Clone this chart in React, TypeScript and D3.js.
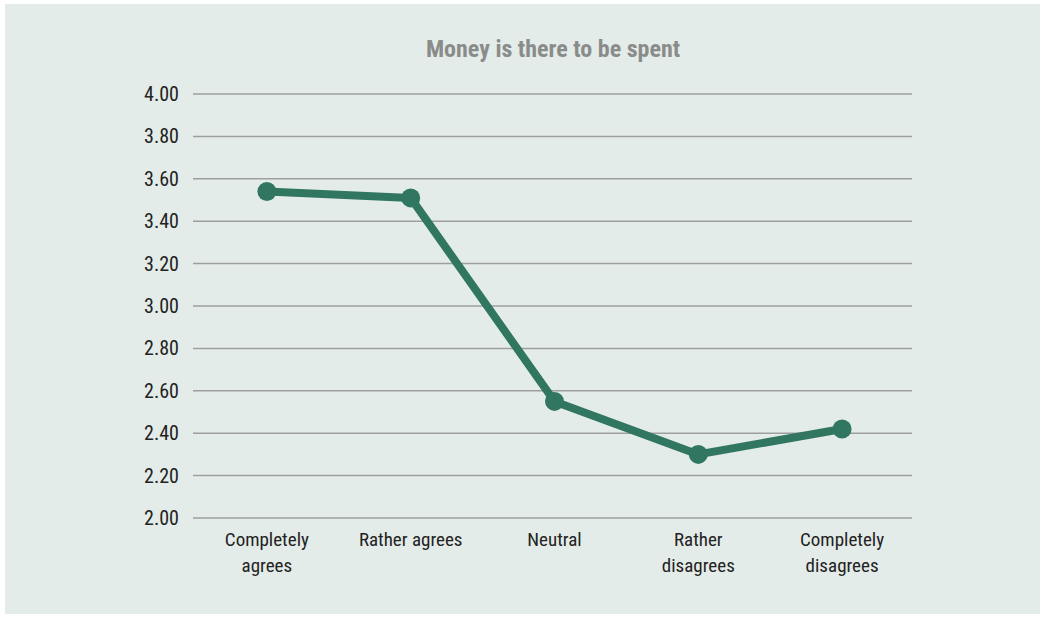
import React from "react";
import * as d3 from "d3";

const categories = [["Completely", "agrees"], ["Rather agrees"], ["Neutral"], ["Rather", "disagrees"], ["Completely", "disagrees"]];
const values = [3.54, 3.51, 2.55, 2.3, 2.42];
const yTicks = [2.0, 2.2, 2.4, 2.6, 2.8, 3.0, 3.2, 3.4, 3.6, 3.8, 4.0];
const title = "Money is there to be spent";

const W = 1044, H = 618;
const FONT = "'Liberation Sans Narrow', 'Arial Narrow', 'Roboto Condensed', sans-serif";

export default function App() {
  const x = d3.scaleBand<number>().domain(d3.range(values.length)).range([195, 914]);
  const y = d3.scaleLinear().domain([2, 4]).range([518, 94]);
  const line = d3.line<number>().x((_, i) => x(i)! + x.bandwidth() / 2).y(d => y(d));
  return (
    <svg width={W} height={H} style={{ position: "absolute", left: 0, top: 0 }}>
      <rect x={0} y={0} width={W} height={H} fill="#ffffff" />
      <rect x={5} y={4} width={1035} height={610} fill="#e4ece9" />
      <text x={553} y={57} textAnchor="middle" fontFamily={FONT} fontWeight="bold" fontSize={24} fill="#8a8c8b">{title}</text>
      {yTicks.map(t => (
        <g key={t}>
          <line x1={193} x2={912} y1={y(t)} y2={y(t)} stroke="#9d9f9e" strokeWidth={1.5} />
          <text x={179} y={y(t) + 7} textAnchor="end" fontFamily={FONT} fontSize={20} fill="#222">{t.toFixed(2)}</text>
        </g>
      ))}
      {categories.map((c, i) => (
        <text key={i} x={x(i)! + x.bandwidth() / 2} y={546} textAnchor="middle" fontFamily={FONT} fontSize={19} fill="#222">
          {c.map((s, j) => <tspan key={j} x={x(i)! + x.bandwidth() / 2} dy={j === 0 ? 0 : 26}>{s}</tspan>)}
        </text>
      ))}
      <path d={line(values)!} fill="none" stroke="#317660" strokeWidth={8} strokeLinejoin="round" />
      {values.map((v, i) => (
        <circle key={i} cx={x(i)! + x.bandwidth() / 2} cy={y(v)} r={9.5} fill="#317660" />
      ))}
    </svg>
  );
}
